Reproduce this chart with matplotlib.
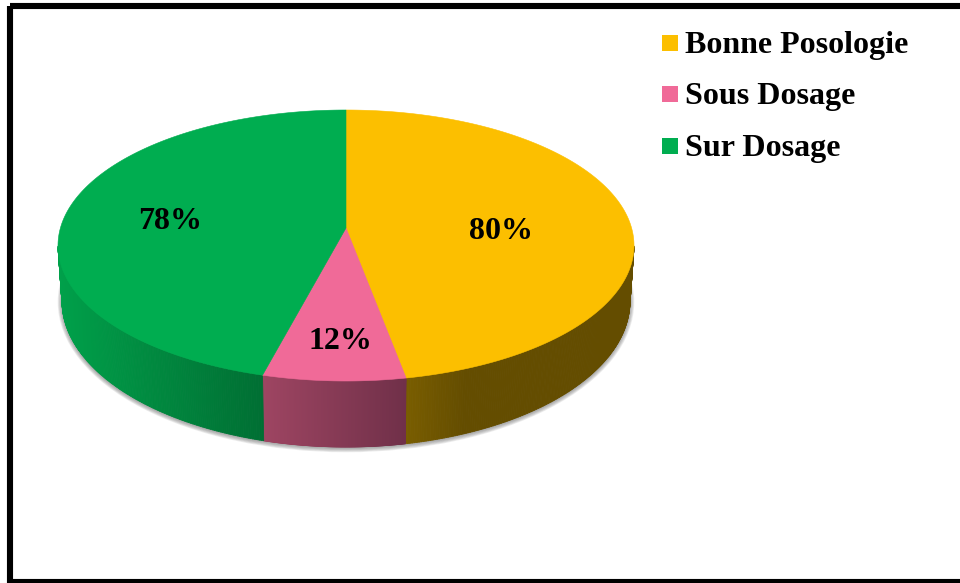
import numpy as np
import matplotlib
matplotlib.use("Agg")
import matplotlib.pyplot as plt
from matplotlib.collections import PolyCollection
from matplotlib.colors import to_rgb
from matplotlib.patches import Ellipse, Polygon, Rectangle

plt.rcParams["font.family"] = ["Liberation Serif", "DejaVu Serif"]

# data
categories = ["Bonne Posologie", "Sous Dosage", "Sur Dosage"]
values = [80, 12, 78]
pct_labels = ["80%", "12%", "78%"]

colors = ["#FCBF00", "#F06A98", "#00AD50"]
side_from = ["#7A5E00", "#9E4562", "#00A04A"]
side_to = ["#644D00", "#703049", "#006F33"]
label_pos = [(501, 239), (340, 349), (170, 229)]

# canvas in image pixels
fig = plt.figure(figsize=(9.6, 5.83), dpi=100)
ax = fig.add_axes([0, 0, 1, 1])
ax.set_xlim(0, 960)
ax.set_ylim(583, 0)
ax.axis("off")

CX = 346
TOP_CY, TOP_RX, TOP_RY = 245.5, 288, 135.5
BOT_CY, BOT_RX, BOT_RY = 301, 284, 146
TILT = 0.129  # moves the pie centre up, like the perspective in the original


def disc(theta):
    """Clockwise angle from 12 o'clock -> tilted unit circle point."""
    u, v = np.sin(theta), -np.cos(theta)
    d = 1 - TILT * v
    return u * np.sqrt(1 - TILT ** 2) / d, (v - TILT) / d


def top_xy(theta):
    u, v = disc(theta)
    return CX + TOP_RX * u, TOP_CY + TOP_RY * v


def bot_xy(theta):
    u, v = disc(theta)
    return CX + BOT_RX * u, BOT_CY + BOT_RY * v


# soft shadow below the side wall
for k in np.arange(0.5, 5, 0.75):
    ax.add_patch(Ellipse((CX, BOT_CY + 1), 2 * (BOT_RX + k), 2 * (BOT_RY + k),
                         facecolor="#707070", edgecolor="none", alpha=0.13, zorder=1))

edges = np.cumsum([0] + values) / sum(values) * 2 * np.pi
apex = (CX, TOP_CY - TILT * TOP_RY)

# side wall, strips with a horizontal gradient
for i in range(len(values)):
    th = np.linspace(edges[i], edges[i + 1], 400)
    th = th[disc(th)[1] >= 0]
    if len(th) < 2:
        continue
    x0, y0 = top_xy(th)
    x1, y1 = bot_xy(th)
    polys, cols = [], []
    c0, c1 = np.array(to_rgb(side_from[i])), np.array(to_rgb(side_to[i]))
    for j in range(len(th) - 1):
        polys.append([(x0[j], y0[j]), (x0[j + 1], y0[j + 1]),
                      (x1[j + 1], y1[j + 1]), (x1[j], y1[j])])
        if i == 0:
            # yellow goes dark quickly and then stays flat
            f = np.clip((x0[j] - x0.min()) / 60, 0, 1)
        else:
            f = (x0[j] - x0.min()) / (x0.max() - x0.min())
        cols.append(c0 + (c1 - c0) * f)
    ax.add_collection(PolyCollection(polys, facecolors=cols, edgecolors=cols,
                                     linewidths=0.6, zorder=2))

# top face
for i in range(len(values)):
    th = np.linspace(edges[i], edges[i + 1], 300)
    x, y = top_xy(th)
    pts = [apex] + list(zip(x, y))
    ax.add_patch(Polygon(pts, closed=True, facecolor=colors[i], edgecolor=colors[i],
                         linewidth=0.4, zorder=3))

for txt, (x, y) in zip(pct_labels, label_pos):
    ax.text(x, y, txt, ha="center", va="baseline", fontsize=23, fontweight="bold",
            color="black", zorder=5)

# legend
legend_y = [43, 94, 146]
for name, col, y in zip(categories, colors, legend_y):
    ax.add_patch(Rectangle((662, y - 8), 16, 16, facecolor=col, edgecolor="none", zorder=4))
    ax.text(685, y + 10, name, ha="left", va="baseline", fontsize=23, fontweight="bold",
            color="black", zorder=5)

# frame
ax.add_patch(Rectangle((10, 6), 960, 576, facecolor="none", edgecolor="black",
                       linewidth=4.4, zorder=6))

fig.savefig("out.png", dpi=100, facecolor="white")
plt.close(fig)
